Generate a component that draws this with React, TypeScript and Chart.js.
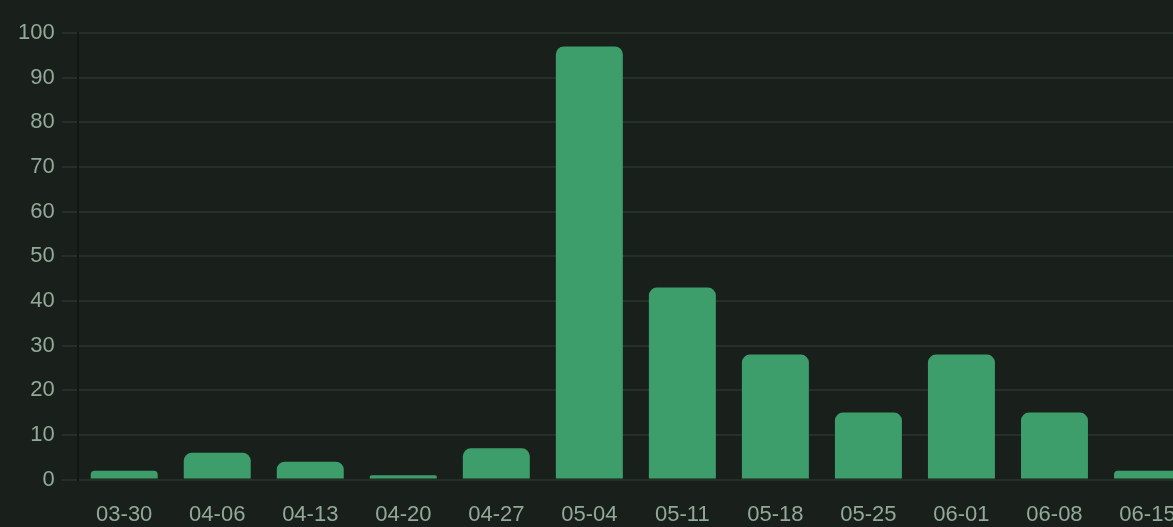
import React, { useEffect, useRef } from "react";
import { Chart, registerables } from "chart.js";

Chart.register(...registerables);

const categories = ["03-30", "04-06", "04-13", "04-20", "04-27", "05-04", "05-11", "05-18", "05-25", "06-01", "06-08", "06-15"];
const values = [2, 6, 4, 1, 7, 97, 43, 28, 15, 28, 15, 2];
const yTicks = [0, 10, 20, 30, 40, 50, 60, 70, 80, 90, 100];

const BG = "#19201b";

export default function App() {
  const ref = useRef<HTMLCanvasElement | null>(null);
  useEffect(() => {
    document.body.style.margin = "0";
    document.body.style.background = BG;
    document.body.style.overflow = "hidden";
    const chart = new Chart(ref.current!, {
      type: "bar",
      data: {
        labels: categories,
        datasets: [
          {
            data: values,
            backgroundColor: "#3d9e6b",
            borderRadius: { topLeft: 8, topRight: 8, bottomLeft: 0, bottomRight: 0 },
            borderSkipped: false,
          },
        ],
      },
      options: {
        animation: false,
        responsive: true,
        maintainAspectRatio: false,
        layout: { padding: { top: 33, right: 0, left: 11, bottom: 0 } },
        plugins: { legend: { display: false }, tooltip: { enabled: false } },
        scales: {
          x: {
            grid: { display: false },
            border: { display: false },
            ticks: { color: "#92a998", font: { family: "Liberation Sans, Arial, sans-serif", size: 22 }, padding: 14, maxRotation: 0, autoSkip: false },
          },
          y: {
            min: 0,
            max: 100,
            afterBuildTicks: (axis: any) => {
              axis.ticks = yTicks.map((v) => ({ value: v }));
            },
            grid: { color: "#243028", lineWidth: 2, tickLength: 16 },
            border: { display: true, color: "#111712", width: 2 },
            ticks: { color: "#92a998", font: { family: "Liberation Sans, Arial, sans-serif", size: 22 }, padding: 7 },
          },
        },
      },
    });
    return () => chart.destroy();
  }, []);
  return (
    <div style={{ width: 1173, height: 527, background: BG, overflow: "hidden" }}>
      <div style={{ position: "relative", width: 1194, height: 542 }}>
        <canvas ref={ref} />
      </div>
    </div>
  );
}
